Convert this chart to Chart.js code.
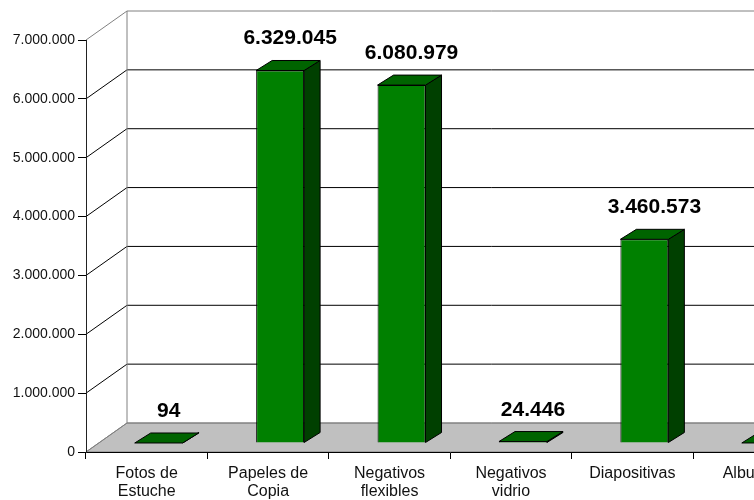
<!DOCTYPE html>
<html>
<head>
<meta charset="utf-8">
<script src="https://cdn.jsdelivr.net/npm/chart.js@4"></script>
<style>
  html, body { margin: 0; padding: 0; background: #fff; overflow: hidden; }
  #wrap { width: 870px; height: 500px; }
</style>
</head>
<body>
<div id="wrap"><canvas id="myChart" width="870" height="500"></canvas></div>
<script>
const categories = [
  ["Fotos de", "Estuche"],
  ["Papeles de", "Copia"],
  ["Negativos", "flexibles"],
  ["Negativos", "vidrio"],
  ["Diapositivas"],
  ["Albumes"]
];
const values = [94, 6329045, 6080979, 24446, 3460573, 350];
const yTicks = [0, 1000000, 2000000, 3000000, 4000000, 5000000, 6000000, 7000000];

// depth offsets of the 3D look
const WALL = { dx: 41, dy: -29 };
const FACE = { dx: 12, dy: -9 };
const DEPTH = { dx: 16, dy: -10 };

const fmt = v => String(v).replace(/\B(?=(\d{3})+(?!\d))/g, ".");

function poly(ctx, pts, fill, stroke) {
  ctx.beginPath();
  ctx.moveTo(pts[0][0], pts[0][1]);
  for (let i = 1; i < pts.length; i++) ctx.lineTo(pts[i][0], pts[i][1]);
  ctx.closePath();
  if (fill) { ctx.fillStyle = fill; ctx.fill(); }
  if (stroke) { ctx.strokeStyle = stroke; ctx.lineWidth = 1; ctx.stroke(); }
}

const box3d = {
  id: "box3d",
  beforeDraw(chart) {
    const ctx = chart.ctx;
    const a = chart.chartArea;
    const y = chart.scales.y;
    ctx.save();
    // floor
    poly(ctx, [[a.left, a.bottom], [a.left + WALL.dx, a.bottom + WALL.dy],
      [a.right + WALL.dx, a.bottom + WALL.dy], [a.right, a.bottom]], "#c0c0c0", "#808080");
    // back wall grid
    yTicks.forEach(v => {
      const py = y.getPixelForValue(v);
      const edge = (v === 0 || v === y.max);
      ctx.strokeStyle = edge ? "#808080" : "#000";
      ctx.lineWidth = 1;
      ctx.beginPath();
      ctx.moveTo(a.left, py);
      ctx.lineTo(a.left + WALL.dx, py + WALL.dy);
      ctx.lineTo(a.right + WALL.dx, py + WALL.dy);
      ctx.stroke();
    });
    ctx.strokeStyle = "#808080";
    ctx.beginPath();
    ctx.moveTo(a.left + WALL.dx, a.top + WALL.dy);
    ctx.lineTo(a.left + WALL.dx, a.bottom + WALL.dy);
    ctx.stroke();
    ctx.restore();
  },
  beforeDatasetsDraw(chart) {
    chart.ctx.save();
    chart.ctx.translate(FACE.dx, FACE.dy);
  },
  afterDatasetsDraw(chart) {
    const ctx = chart.ctx;
    ctx.restore();
    const meta = chart.getDatasetMeta(0);
    ctx.save();
    meta.data.forEach((bar, i) => {
      const p = bar.getProps(["x", "y", "base", "width"], true);
      const l = p.x - p.width / 2 + FACE.dx;
      const r = p.x + p.width / 2 + FACE.dx;
      const t = p.y + FACE.dy;
      const b = p.base + FACE.dy;
      poly(ctx, [[r, t], [r + DEPTH.dx, t + DEPTH.dy], [r + DEPTH.dx, b + DEPTH.dy], [r, b]], "#004000", "#000");
      poly(ctx, [[l, t], [r, t], [r + DEPTH.dx, t + DEPTH.dy], [l + DEPTH.dx, t + DEPTH.dy]], "#006400", "#000");
      // value label
      ctx.fillStyle = "#000";
      ctx.font = "bold 21px Arial, 'Liberation Sans', sans-serif";
      ctx.textAlign = "center";
      ctx.textBaseline = "alphabetic";
      ctx.fillText(fmt(values[i]), p.x + FACE.dx + 10, t + DEPTH.dy - 16);
    });
    ctx.restore();
  }
};

const ctx = document.getElementById("myChart").getContext("2d");
const chart = new Chart(ctx, {
  type: "bar",
  data: {
    labels: categories,
    datasets: [{
      data: values,
      backgroundColor: "#008000",
      borderColor: "#000",
      borderWidth: 1,
      barPercentage: 0.395,
      categoryPercentage: 1,
      clip: false
    }]
  },
  options: {
    responsive: false,
    animation: false,
    layout: { padding: { top: 40, right: 55.5, bottom: 0, left: 0 } },
    plugins: { legend: { display: false }, tooltip: { enabled: false } },
    scales: {
      x: {
        offset: true,
        grid: { offset: true, drawOnChartArea: false, tickLength: 7, color: "#000" },
        border: { color: "#000" },
        ticks: {
          autoSkip: false, maxRotation: 0, padding: 5, color: "#111",
          font: { family: "Arial, 'Liberation Sans', sans-serif", size: 16, lineHeight: 1.15 }
        },
        afterFit(scale) { scale.height = 48; }
      },
      y: {
        min: 0,
        max: 7000000,
        afterBuildTicks(scale) { scale.ticks = yTicks.map(v => ({ value: v })); },
        grid: { drawOnChartArea: false, tickLength: 8, color: "#000" },
        border: { color: "#222" },
        ticks: {
          padding: 3, color: "#111",
          font: { family: "Arial, 'Liberation Sans', sans-serif", size: 14 },
          callback: v => fmt(v)
        },
        afterFit(scale) { scale.width = 86; }
      }
    }
  },
  plugins: [box3d]
});
</script>
</body>
</html>
